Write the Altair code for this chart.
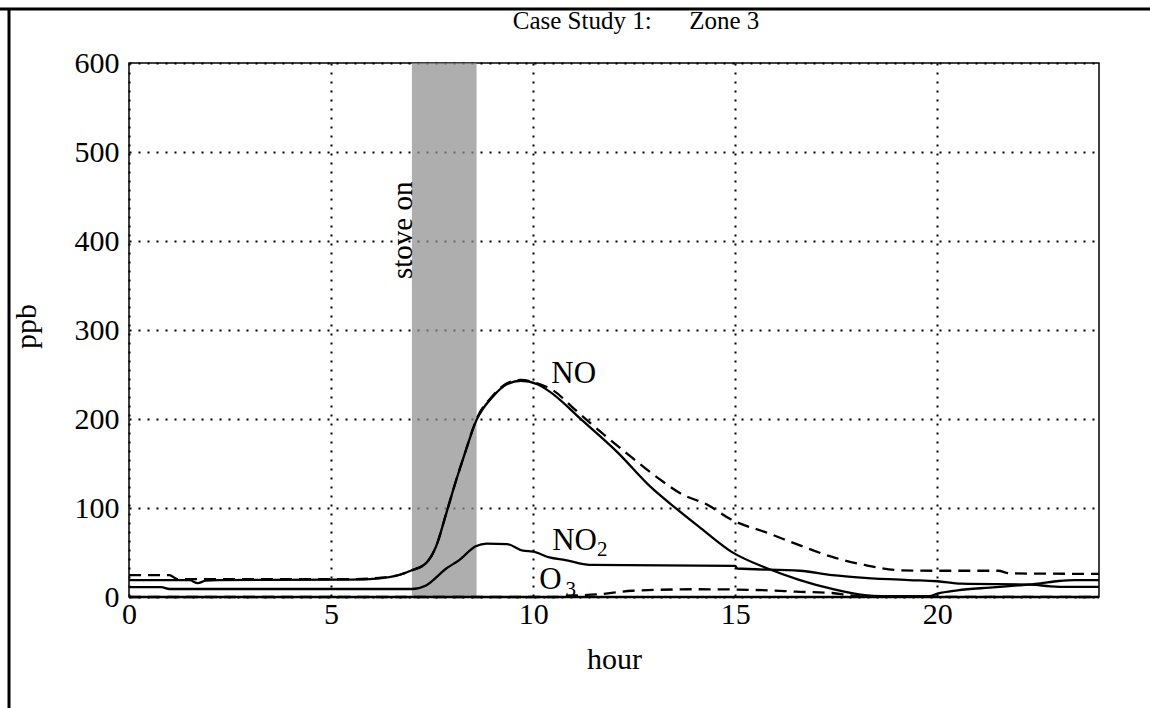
import altair as alt
import pandas as pd

FONT = "Liberation Serif"

# ---- data ----
no_hour = [0, 1.5, 1.7, 1.9, 2.2, 5.5, 6.2, 6.7, 7.0, 7.35, 7.6, 7.85, 8.1, 8.3, 8.6, 9.0, 9.35, 9.7,
           10.1, 10.4, 11.2, 12.1, 12.9, 13.55, 14.1, 14.9, 15.8, 16.6, 17.4, 18.2, 18.6, 19.8, 20.0,
           20.5, 21.3, 22.0, 22.5, 23.0, 23.4, 24]
no_ppb = [19, 19, 15.5, 18.5, 19, 19.5, 21, 25, 30, 38, 57, 94, 132, 160, 199, 225, 239, 243,
          239, 231, 199, 162, 124, 99, 79, 51, 32, 19, 9, 2, 1, 1, 3.8,
          7.5, 10.6, 13, 15, 18, 19, 19]

no_meas_hour = [0, 1.0, 1.2, 5.5, 6.2, 6.7, 7.0, 7.35, 7.6, 7.85, 8.1, 8.3, 8.6, 9.0, 9.35, 9.7, 10.1,
                10.5, 11.0, 11.4, 12.3, 13.05, 13.7, 14.3, 14.9, 15.8, 16.6, 17.4, 18.2, 19.1, 20.0,
                21.5, 21.8, 24]
no_meas_ppb = [24.5, 24.5, 20, 20, 21.5, 25, 30, 38, 57, 94, 132, 160, 200, 226, 240, 244, 240,
               232, 212, 196, 162, 135, 115, 104, 87, 72, 58, 45, 36, 30, 29.5,
               29.5, 26.5, 26]

no2_hour = [0, 0.8, 1.0, 7.0, 7.35, 7.85, 8.17, 8.58, 8.85, 9.35, 9.75, 10.0, 10.4, 10.8, 11.4,
            15.0, 15.05, 16.6, 17.4, 18.2, 19.3, 20.0, 20.6, 22.3, 22.8, 23.2, 24]
no2_ppb = [11, 11, 9, 9, 13, 32, 41.5, 57, 60, 59.5, 52, 51, 44.5, 41.5, 36,
           35, 32, 29.5, 24.5, 21.5, 19, 17.7, 15, 14, 12, 11.3, 11.3]

o3_meas_hour = [0, 10.6, 10.8, 11.2, 11.6, 12.45, 14.1, 15.8, 16.5, 17.4, 17.8, 18.2, 24]
o3_meas_ppb = [0, 0, 1.5, 2, 3, 7, 8.7, 7.5, 6, 4.5, 2, 0.5, 0]

o3_hour = [0, 24]
o3_ppb = [0, 0]

stove_start = [7.0]
stove_end = [8.6]
stove_text = ["stove on"]
stove_text_hour = [6.78]
stove_text_ppb = [412]

label_text = ["NO", "NO", "O"]
label_hour = [10.45, 10.47, 10.15]
label_ppb = [241, 53, 9]
sub_text = ["2", "3"]
sub_hour = [11.58, 10.8]
sub_ppb = [46, 1]

title_text = ["Case Study 1:" + "\u00a0" * 6 + "Zone 3"]

x_ticks = [0, 5, 10, 15, 20]
y_ticks = [0, 100, 200, 300, 400, 500, 600]

W, H = 970, 534

xs = alt.Scale(domain=[0, 24], nice=False, zero=False)
ys = alt.Scale(domain=[0, 600], nice=False)

xaxis = alt.Axis(values=x_ticks, title="hour", grid=True, gridDash=[2, 7], gridColor="black",
                 gridWidth=2, gridOpacity=1, ticks=False, domain=False, labelFont=FONT,
                 labelFontSize=30, labelColor="black", labelPadding=2, labelFlush=False,
                 labelOverlap=False, titleFont=FONT, titleFontSize=30, titleFontWeight="normal",
                 titleColor="black", titleBaseline="alphabetic", titleY=71)
yaxis = alt.Axis(values=y_ticks, title="ppb", grid=True, gridDash=[2, 7], gridColor="black",
                 gridWidth=2, gridOpacity=1, ticks=False, domain=False, labelFont=FONT,
                 labelFontSize=30, labelColor="black", labelPadding=10, labelFlush=False,
                 labelOverlap=False, titleFont=FONT, titleFontSize=30, titleFontWeight="normal",
                 titleColor="black", titleAngle=270, titleAlign="center",
                 titleBaseline="alphabetic", titleX=-94, titleY=263)

shade = alt.Chart(pd.DataFrame({"start": stove_start, "end": stove_end})).mark_rect(
    color="#8f8f8f", opacity=0.72
).encode(
    x=alt.X("start:Q", scale=xs, axis=xaxis),
    x2="end:Q",
    y=alt.value(0),
    y2=alt.value(H),
)


def line(h, v, dash=None):
    kw = dict(color="black", strokeWidth=2.3, interpolate="monotone")
    if dash:
        kw["strokeDash"] = dash
    return alt.Chart(pd.DataFrame({"hour": h, "ppb": v})).mark_line(**kw).encode(
        x=alt.X("hour:Q", scale=xs, axis=xaxis),
        y=alt.Y("ppb:Q", scale=ys, axis=yaxis),
    )


lines = [
    line(o3_hour, o3_ppb),
    line(o3_meas_hour, o3_meas_ppb, [12, 7]),
    line(no2_hour, no2_ppb),
    line(no_meas_hour, no_meas_ppb, [12, 7]),
    line(no_hour, no_ppb),
]

labels = alt.Chart(pd.DataFrame({"t": label_text, "hour": label_hour, "ppb": label_ppb})).mark_text(
    font=FONT, fontSize=31, align="left", baseline="alphabetic", color="black"
).encode(x=alt.X("hour:Q", scale=xs, axis=xaxis), y=alt.Y("ppb:Q", scale=ys, axis=yaxis), text="t:N")

subs = alt.Chart(pd.DataFrame({"t": sub_text, "hour": sub_hour, "ppb": sub_ppb})).mark_text(
    font=FONT, fontSize=21, align="left", baseline="alphabetic", color="black"
).encode(x=alt.X("hour:Q", scale=xs, axis=xaxis), y=alt.Y("ppb:Q", scale=ys, axis=yaxis), text="t:N")

stove = alt.Chart(pd.DataFrame({"t": stove_text, "hour": stove_text_hour, "ppb": stove_text_ppb})).mark_text(
    font=FONT, fontSize=29, angle=270, align="center", baseline="middle", color="black"
).encode(x=alt.X("hour:Q", scale=xs, axis=xaxis), y=alt.Y("ppb:Q", scale=ys, axis=yaxis), text="t:N")

title = alt.Chart(pd.DataFrame({"t": title_text})).mark_text(
    font=FONT, fontSize=25, align="center", baseline="alphabetic", color="black"
).encode(x=alt.value(636 - 129), y=alt.value(29 - 63), text="t:N")

one = pd.DataFrame({"k": [0]})
frame_left = alt.Chart(one).mark_rule(color="black", strokeWidth=3).encode(
    x=alt.value(-120), y=alt.value(-54), y2=alt.value(708 - 63))
frame_top = alt.Chart(one).mark_rule(color="black", strokeWidth=3).encode(
    x=alt.value(-129), x2=alt.value(1150 - 129), y=alt.value(-54))

chart = alt.layer(shade, *lines, labels, subs, stove, title, frame_left, frame_top).properties(
    width=W, height=H,
    autosize=alt.AutoSizeParams(type="none"),
    padding={"left": 129, "top": 63, "right": 51, "bottom": 111},
    background="white",
).configure_view(stroke="black", strokeWidth=1.5)

chart.save("out.html", embed_options={"renderer": "svg", "actions": False})
